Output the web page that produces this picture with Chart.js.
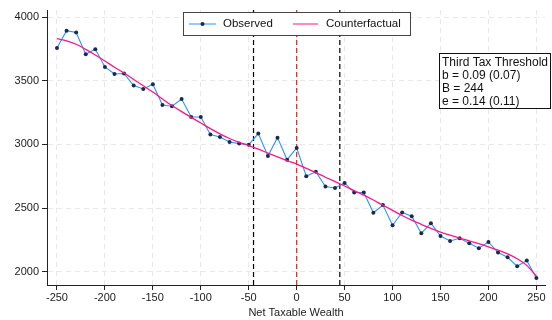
<!DOCTYPE html>
<html>
<head>
<meta charset="utf-8">
<script src="https://cdn.jsdelivr.net/npm/chart.js@4/dist/chart.umd.min.js"></script>
<style>
  html, body { margin: 0; padding: 0; background: #fff; }
  #wrap { width: 552px; height: 320px; }
</style>
</head>
<body>
<div id="wrap"><canvas id="chart"></canvas></div>
<script>
// Net taxable wealth bins (distance to threshold)
const wealth = [-250, -240, -230, -220, -210, -200, -190, -180, -170, -160,
                -150, -140, -130, -120, -110, -100, -90, -80, -70, -60,
                -50, -40, -30, -20, -10, 0, 10, 20, 30, 40,
                50, 60, 70, 80, 90, 100, 110, 120, 130, 140,
                150, 160, 170, 180, 190, 200, 210, 220, 230, 240, 250];

const observed = [3757, 3893, 3878, 3707, 3746, 3608, 3553, 3556, 3462, 3435,
                  3472, 3309, 3299, 3356, 3215, 3215, 3077, 3058, 3019, 3006,
                  2998, 3085, 2909, 3053, 2880, 2972, 2750, 2786, 2669, 2658,
                  2697, 2622, 2622, 2463, 2524, 2365, 2465, 2436, 2302, 2381,
                  2281, 2242, 2263, 2224, 2185, 2234, 2151, 2114, 2043, 2088, 1951];

const counterfactual = [3830, 3812, 3786, 3746, 3702, 3655, 3606, 3560, 3510, 3460,
                        3411, 3357, 3305, 3257, 3212, 3168, 3124, 3083, 3046, 3016,
                        2990, 2962, 2932, 2902, 2872, 2845, 2812, 2778, 2742, 2708,
                        2673, 2637, 2601, 2563, 2522, 2482, 2442, 2405, 2372, 2340,
                        2312, 2287, 2264, 2242, 2220, 2196, 2170, 2140, 2102, 2050, 1965];

const bandLines = [-45, 45];   // black dashed
const thresholdLine = 0;       // red dashed

const xTicks = [-250, -200, -150, -100, -50, 0, 50, 100, 150, 200, 250];
const yTicks = [2000, 2500, 3000, 3500, 4000];

const statsLines = ['Third Tax Threshold', 'b = 0.09 (0.07)', 'B = 244', 'e = 0.14 (0.11)'];

const X_MIN = -260.4, X_MAX = 259;
const Y_MIN = 1896, Y_MAX = 4055;

const FONT = 'Arial, "Liberation Sans", sans-serif';
const BLUE = 'rgb(40,150,255)';
const PINK = 'rgb(255,20,140)';
const NAVY = '#1c2a4a';

function vline(x, color) {
    return {
        data: [{ x: x, y: Y_MIN }, { x: x, y: Y_MAX }],
        borderColor: color,
        borderWidth: 1.2,
        borderDash: [5, 3],
        pointRadius: 0,
        order: 5
    };
}

// legend box + stats box drawn on top
const overlay = {
    id: 'overlay',
    afterDraw(chart) {
        const ctx = chart.ctx;
        ctx.save();

        // legend
        const lx = 183, ly = 12, lw = 227, lh = 23;
        ctx.fillStyle = '#fff';
        ctx.fillRect(lx, ly, lw, lh);
        ctx.strokeStyle = '#444';
        ctx.lineWidth = 1;
        ctx.strokeRect(lx + 0.5, ly + 0.5, lw, lh);
        const cy = ly + lh / 2 + 0.5;
        ctx.strokeStyle = BLUE;
        ctx.beginPath(); ctx.moveTo(189, cy); ctx.lineTo(216, cy); ctx.stroke();
        ctx.fillStyle = NAVY;
        ctx.beginPath(); ctx.arc(202.5, cy, 2, 0, Math.PI * 2); ctx.fill();
        ctx.strokeStyle = PINK;
        ctx.beginPath(); ctx.moveTo(293, cy); ctx.lineTo(318, cy); ctx.stroke();
        ctx.fillStyle = '#111';
        ctx.font = '11.5px ' + FONT;
        ctx.textBaseline = 'middle';
        ctx.fillText('Observed', 223, cy);
        ctx.fillText('Counterfactual', 326, cy);

        // stats box
        const bx = 439, by = 53, bw = 112, bh = 55;
        ctx.fillStyle = '#fff';
        ctx.fillRect(bx, by, bw, bh);
        ctx.strokeStyle = '#111';
        ctx.strokeRect(bx + 0.5, by + 0.5, bw - 1, bh);
        ctx.fillStyle = '#111';
        ctx.font = '12px ' + FONT;
        statsLines.forEach((t, i) => ctx.fillText(t, bx + 3, by + 10 + i * 13));
        ctx.restore();
    }
};

new Chart(document.getElementById('chart'), {
    type: 'line',
    data: {
        datasets: [
            {
                label: 'Counterfactual',
                data: wealth.map((x, i) => ({ x: x, y: counterfactual[i] })),
                borderColor: PINK,
                borderWidth: 1.3,
                pointRadius: 0,
                cubicInterpolationMode: 'monotone',
                order: 1
            },
            {
                label: 'Observed',
                data: wealth.map((x, i) => ({ x: x, y: observed[i] })),
                borderColor: BLUE,
                borderWidth: 1.1,
                pointRadius: 2,
                pointBackgroundColor: NAVY,
                pointBorderColor: NAVY,
                pointBorderWidth: 0,
                tension: 0,
                order: 2
            },
            vline(bandLines[0], '#000'),
            vline(bandLines[1], '#000'),
            vline(thresholdLine, '#e8201c')
        ]
    },
    options: {
        responsive: true,
        maintainAspectRatio: false,
        animation: false,
        events: [],
        layout: { padding: { left: 0, right: 7, top: 10, bottom: 0 } },
        plugins: {
            legend: { display: false },
            tooltip: { enabled: false }
        },
        scales: {
            x: {
                type: 'linear',
                min: X_MIN,
                max: X_MAX,
                afterBuildTicks: (s) => { s.ticks = xTicks.map(v => ({ value: v })); },
                afterFit: (s) => { s.height = 35; },
                ticks: { color: '#222', font: { family: FONT, size: 11 }, padding: 1, maxRotation: 0,
                         callback: (v) => String(v) },
                grid: { color: '#e8e8e8', lineWidth: 1, tickColor: '#222', tickLength: 5 },
                border: { display: true, color: '#222', width: 1, dash: [5, 4] },
                title: { display: true, text: 'Net Taxable Wealth', color: '#222', font: { family: FONT, size: 11 }, padding: { top: 2, bottom: 0 } }
            },
            y: {
                min: Y_MIN,
                max: Y_MAX,
                afterBuildTicks: (s) => { s.ticks = yTicks.map(v => ({ value: v })); },
                afterFit: (s) => { s.width = 47; },
                ticks: { color: '#222', font: { family: FONT, size: 11 }, padding: 3,
                         callback: (v) => String(v) },
                grid: { color: '#e8e8e8', lineWidth: 1, tickColor: '#222', tickLength: 5 },
                border: { display: true, color: '#222', width: 1, dash: [5, 4] }
            }
        }
    },
    plugins: [overlay]
});
</script>
</body>
</html>
